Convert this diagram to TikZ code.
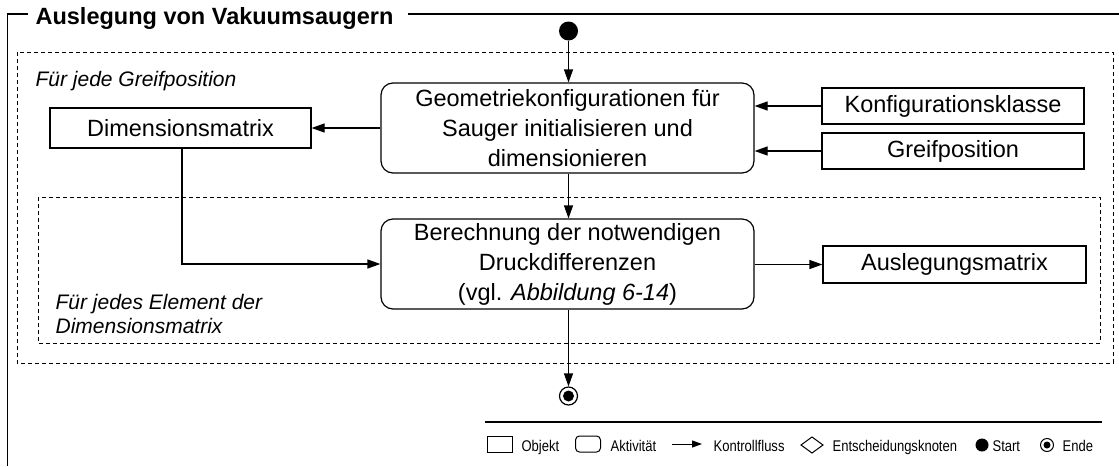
\documentclass[tikz,border=0pt]{standalone}
\usepackage{fontspec}
\setmainfont{Liberation Sans}
\newfontfamily\legendfont[FakeStretch=0.84]{Liberation Sans}
\usetikzlibrary{arrows.meta}
\begin{document}
\begin{tikzpicture}[x=1pt,y=-1pt,
  line width=1.2pt,
  objbox/.style={draw, inner sep=0pt, font=\fontsize{23.5}{28}\selectfont},
  actbox/.style={draw, rounded corners=12pt, inner sep=0pt, align=center,
    minimum width=373pt, minimum height=90pt, font=\fontsize{23.5}{30}\selectfont},
  region/.style={draw, dash pattern=on 4pt off 3pt, line width=1pt},
  flow/.style={-{Triangle[length=13pt,width=9pt]}, line width=1.2pt},
  note/.style={font=\fontsize{21}{24}\selectfont\itshape, inner sep=0pt, anchor=base west},
  legtext/.style={font=\legendfont\fontsize{15.5}{18}\selectfont, inner sep=0pt, anchor=base west},
  legsym/.style={draw, inner sep=0pt, line width=1pt, minimum width=25pt, minimum height=16pt},
]
\useasboundingbox (0,0) rectangle (1119,466);

% outer frame with title
\node[anchor=base west, inner sep=0pt, font=\fontsize{23.5}{28}\selectfont\bfseries] (title) at (35,24) {Auslegung von Vakuumsaugern};
\draw (28,14) -- (7.5,14) -- (7.5,466);
\draw (408,14) -- (1119,14);

% loop regions
\draw[region] (17,52) rectangle (1113,363);
\draw[region] (38,197) rectangle (1100,343);
\node[note] (loopA) at (35,86) {Für jede Greifposition};
\node[note] (loopB1) at (55,309) {Für jedes Element der};
\node[note] (loopB2) at (55,333) {Dimensionsmatrix};

% activities
\node[actbox] (act1) at (567.5,128) {Geometriekonfigurationen für\\Sauger initialisieren und\\dimensionieren};
\node[actbox] (act2) at (567.5,264) {Berechnung der notwendigen\\Druckdifferenzen\\(vgl. \textit{Abbildung 6-14})};

% objects
\node[objbox, minimum width=261pt, minimum height=40pt] (dim) at (180.5,128) {Dimensionsmatrix};
\node[objbox, minimum width=262pt, minimum height=36pt] (konf) at (953,106) {Konfigurationsklasse};
\node[objbox, minimum width=262pt, minimum height=36pt] (greif) at (953,151) {Greifposition};
\node[objbox, minimum width=263pt, minimum height=37pt] (aus) at (954.5,264.5) {Auslegungsmatrix};

% start and end
\node[circle, fill, inner sep=0pt, minimum size=19pt] (start) at (568.5,31) {};
\node[circle, draw, inner sep=0pt, minimum size=18pt] (end) at (568.5,396) {};
\fill (end.center) circle (5.5);

% control flow
\draw[flow] (start) -- (start |- act1.north);
\draw[flow] (act1.south -| start) -- (act2.north -| start);
\draw[flow] (act2.south -| start) -- (end);
\draw[flow] (act1.west) -- (dim.east);
\draw[flow] (konf.west) -- (konf.west -| act1.east);
\draw[flow] (greif.west) -- (greif.west -| act1.east);
\draw[flow] (dim.south -| 182,0) |- (act2.west);
\draw[flow] (act2.east |- aus.west) -- (aus.west);

% legend
\draw (485,422) -- (1102,422);
\node[legsym] (legobj) at (499.5,444) {};
\node[legtext] (legobjt) at (521,451) {Objekt};
\node[legsym, rounded corners=4pt] (legact) at (588,444) {};
\node[legtext] (legactt) at (610,451) {Aktivität};
\coordinate (legA) at (672,444);
\coordinate (legB) at (702,444);
\draw[line width=1pt, -{Triangle[length=10pt,width=7pt]}] (legA) -- (legB);
\node[legtext] (legflow) at (713,451) {Kontrollfluss};
\draw[line width=1pt] (801,445) -- (812,437) -- (823,445) -- (812,453) -- cycle;
\node[legtext] (legdec) at (832,451) {Entscheidungsknoten};
\fill (982,445) circle (6.5);
\node[legtext] (legstart) at (992,451) {Start};
\draw[line width=1pt] (1047,445) circle (6.5);
\fill (1047,445) circle (3.5);
\node[legtext] (legend) at (1062,451) {Ende};
\end{tikzpicture}
\end{document}
